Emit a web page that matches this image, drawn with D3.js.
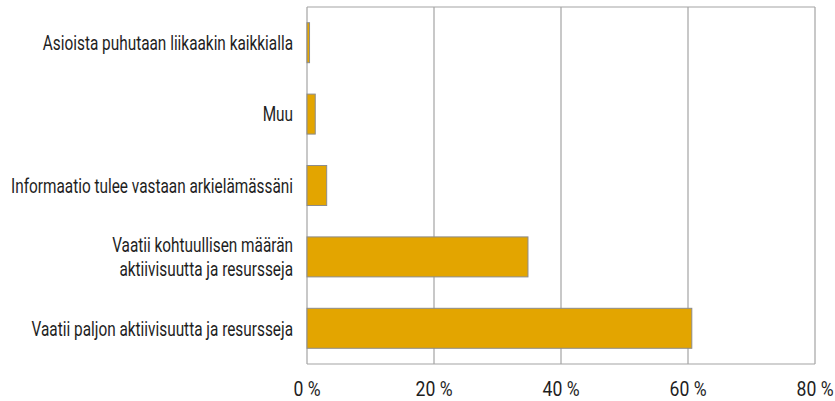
<!DOCTYPE html>
<html>
<head>
<meta charset="utf-8">
<script src="https://cdn.jsdelivr.net/npm/d3@7"></script>
<style>
  body { margin: 0; background: #fff; }
  text { font-family: Roboto, sans-serif; fill: #1e1e1e; }
</style>
</head>
<body>
<div id="chart"></div>
<script>
const categories = [
  'Asioista puhutaan liikaakin kaikkialla',
  'Muu',
  'Informaatio tulee vastaan arkielämässäni',
  'Vaatii kohtuullisen määrän|aktiivisuutta ja resursseja',
  'Vaatii paljon aktiivisuutta ja resursseja'
]
const values = [0.4, 1.3, 3.1, 34.8, 60.6]
const ticks = [0, 20, 40, 60, 80]

const margin = { top: 7, right: 20, bottom: 37, left: 307 }
const width = 835 - margin.left - margin.right
const height = 401 - margin.top - margin.bottom

const fontSize = 20
// widest label in the original is about 282px wide (condensed face)
const widestLabel = 282

const svg = d3
  .select('#chart')
  .append('svg')
  .attr('width', 835)
  .attr('height', 401)
  .append('g')
  .attr('transform', 'translate(' + margin.left + ',' + margin.top + ')')

const xPositionScale = d3.scaleLinear().domain([0, 80]).range([0, width])

const yPositionScale = d3
  .scaleBand()
  .domain(categories)
  .range([0, height])
  .paddingInner(0.44)
  .paddingOuter(0.22)

// gridlines
svg
  .selectAll('.grid')
  .data(ticks)
  .enter()
  .append('line')
  .attr('x1', d => xPositionScale(d))
  .attr('x2', d => xPositionScale(d))
  .attr('y1', 0)
  .attr('y2', height)
  .attr('stroke', '#a3a3a3')
  .attr('stroke-width', 1.2)

svg
  .selectAll('.hline')
  .data([0, height])
  .enter()
  .append('line')
  .attr('x1', 0)
  .attr('x2', width)
  .attr('y1', d => d)
  .attr('y2', d => d)
  .attr('stroke', '#a3a3a3')
  .attr('stroke-width', 1.2)

svg
  .selectAll('.bar')
  .data(values)
  .enter()
  .append('rect')
  .attr('class', 'bar')
  .attr('x', 0)
  .attr('y', (d, i) => yPositionScale(categories[i]))
  .attr('width', d => xPositionScale(d))
  .attr('height', yPositionScale.bandwidth())
  .attr('fill', '#e3a500')
  .attr('stroke', '#8c8c8c')
  .attr('stroke-width', 1)

// measure the natural width of the widest line to work out the squeeze
const probe = svg.append('text').attr('font-size', fontSize).text(categories[2])
const squeeze = Math.min(1, widestLabel / probe.node().getComputedTextLength())
probe.remove()

// category labels
const labelGroups = svg
  .selectAll('.label')
  .data(categories)
  .enter()
  .append('g')
  .attr('class', 'label')
  .attr('transform', d =>
    'translate(-14,' + (yPositionScale(d) + yPositionScale.bandwidth() / 2) + ')')
  .append('g')
  .attr('transform', 'scale(' + squeeze + ',1)')

labelGroups.each(function(d) {
  const lines = d.split('|')
  const el = d3.select(this)
    .append('text')
    .attr('text-anchor', 'end')
    .attr('font-size', fontSize)
  lines.forEach((line, j) => {
    el.append('tspan')
      .attr('x', 0)
      .attr('dy', j === 0 ? (0.36 - (lines.length - 1) * 0.6) + 'em' : '1.2em')
      .text(line)
  })
})

// x tick labels
svg
  .selectAll('.tick-label')
  .data(ticks)
  .enter()
  .append('g')
  .attr('transform', d => 'translate(' + xPositionScale(d) + ',' + (height + 32) + ')')
  .append('g')
  .attr('transform', 'scale(0.88,1)')
  .append('text')
  .attr('text-anchor', 'middle')
  .attr('font-size', fontSize)
  .text(d => d + ' %')
</script>
</body>
</html>
